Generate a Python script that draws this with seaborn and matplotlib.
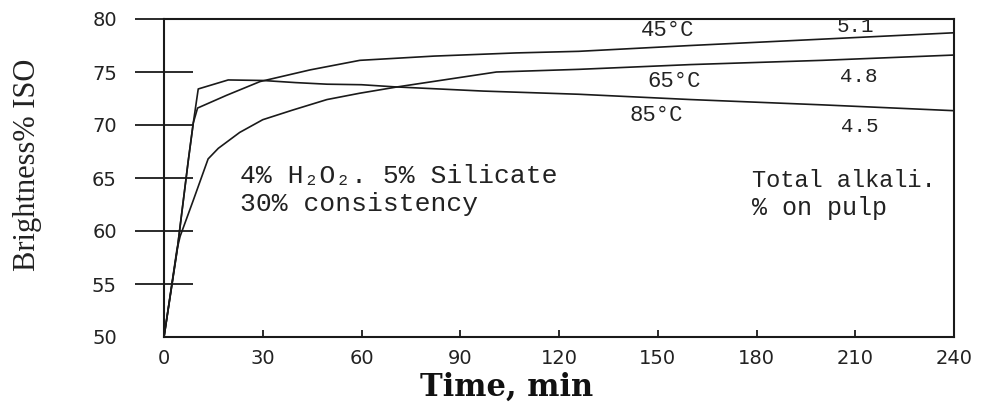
import matplotlib
matplotlib.use("Agg")
import matplotlib.pyplot as plt
import seaborn as sns
import pandas as pd

# ---- data ----
t_45 = [0, 4, 7.4, 8.9, 10.2, 19, 29.2, 44.4, 59.5, 82, 107, 126, 160, 200, 240]
b_45 = [50, 58.2, 66.7, 70.2, 71.6, 72.8, 74.1, 75.2, 76.1, 76.5, 76.8, 76.95, 77.5, 78.1, 78.7]

t_65 = [0, 3.9, 4.9, 8.9, 13.4, 16.5, 23, 30, 39, 49.5, 59.5, 71, 101, 126, 160, 200, 240]
b_65 = [50, 58.2, 59.5, 62.9, 66.8, 67.8, 69.3, 70.5, 71.4, 72.4, 73.0, 73.6, 75.0, 75.25, 75.7, 76.1, 76.6]

t_85 = [0, 4, 7.4, 8.9, 10.4, 19.5, 30, 40, 49.5, 60, 70, 97, 126, 160, 200, 240]
b_85 = [50, 58.2, 66.7, 70.2, 73.4, 74.25, 74.2, 74.0, 73.85, 73.8, 73.6, 73.2, 72.9, 72.4, 71.9, 71.35]

x_ticks = [0, 30, 60, 90, 120, 150, 180, 210, 240]
y_ticks = [50, 55, 60, 65, 70, 75, 80]

temp_labels = ["45\u00b0C", "65\u00b0C", "85\u00b0C"]
temp_pos = [(153, 78.9), (155, 74.15), (149.5, 70.9)]
alkali_labels = ["5.1", "4.8", "4.5"]
alkali_pos = [(210, 79.25), (211, 74.6), (211.5, 69.9)]

sns.set_theme(style="white")
plt.rcParams["font.family"] = ["DejaVu Sans"]

fig = plt.figure(figsize=(9.89, 4.12), dpi=100)
ax = fig.add_axes([164 / 989, 1 - 337 / 412, 790 / 989, 318 / 412])

for t, b in [(t_45, b_45), (t_65, b_65), (t_85, b_85)]:
    df = pd.DataFrame({"t": t, "b": b})
    sns.lineplot(data=df, x="t", y="b", ax=ax, color="#1a1a1a", linewidth=1.2,
                 estimator=None, sort=False)

ax.set_xlim(0, 240)
ax.set_ylim(50, 80)
ax.set_xticks(x_ticks)
ax.set_yticks(y_ticks)
ax.set_xticklabels([str(v) for v in x_ticks], fontsize=14, color="#222222")
ax.set_yticklabels([str(v) for v in y_ticks], fontsize=14, color="#222222")

ax.tick_params(axis="y", left=True, direction="inout", length=42, width=1.3,
               color="#1a1a1a", pad=13)
ax.tick_params(axis="x", bottom=True, direction="in", length=5, width=1.3,
               color="#1a1a1a", pad=9)
ax.yaxis.get_major_ticks()[0].tick1line.set_visible(False)

for s in ax.spines.values():
    s.set_visible(True)
    s.set_color("#1a1a1a")
    s.set_linewidth(1.5)

ax.set_xlabel("Time, min", fontsize=22, fontweight="bold", family="DejaVu Serif", color="#111111")
ax.set_ylabel("Brightness% ISO", fontsize=22, family="Liberation Serif", color="#222222")
ax.xaxis.set_label_coords(0.434, -0.11)
ax.yaxis.set_label_coords(-0.154, 0.54)

mono = "Liberation Mono"
for lab, (x, y) in zip(temp_labels, temp_pos):
    ax.text(x, y, lab, fontsize=16, family=mono, ha="center", va="center", color="#222222")
for lab, (x, y) in zip(alkali_labels, alkali_pos):
    ax.text(x, y, lab, fontsize=15, family=mono, ha="center", va="center", color="#222222")

ax.text(23.1, 65.2, "4% H\u2082O\u2082. 5% Silicate", fontsize=19, family=mono, ha="left", va="center", color="#222222")
ax.text(23.1, 62.5, "30% consistency", fontsize=19, family=mono, ha="left", va="center", color="#222222")
ax.text(178.6, 64.8, "Total alkali.", fontsize=17, family=mono, ha="left", va="center", color="#222222")
ax.text(178.6, 62.2, "% on pulp", fontsize=18, family=mono, ha="left", va="center", color="#222222")

fig.savefig("out.png", dpi=100)
